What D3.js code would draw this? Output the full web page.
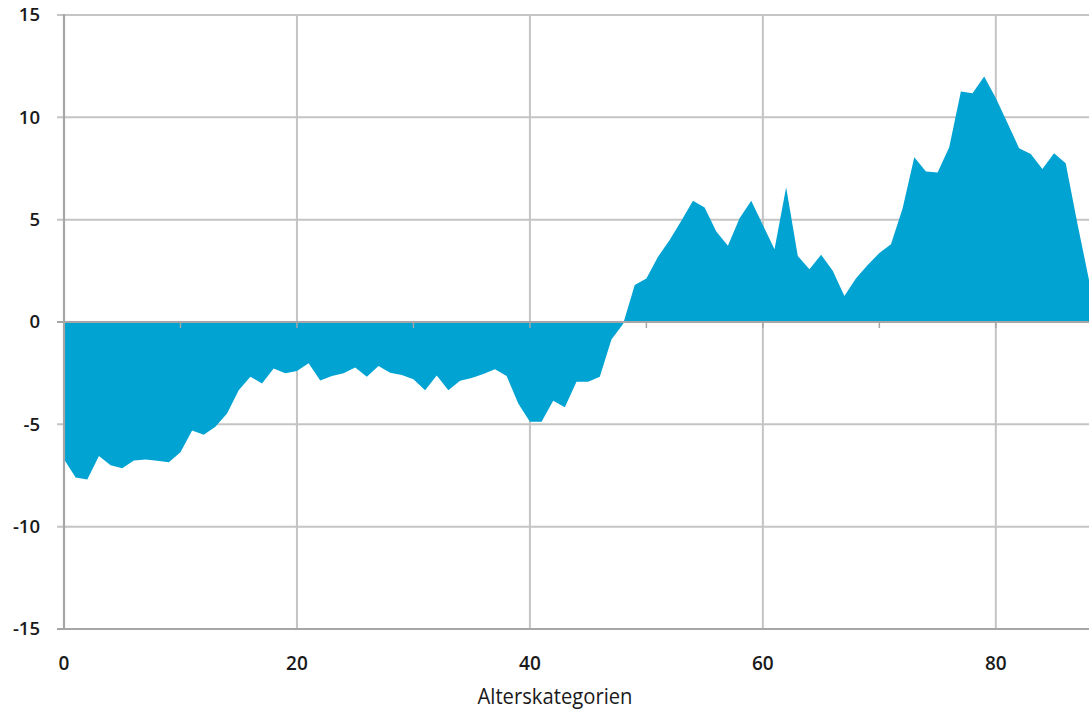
<!DOCTYPE html>
<html>
<head>
<meta charset="utf-8">
<script src="https://cdn.jsdelivr.net/npm/d3@7"></script>
<style>
  html, body { margin: 0; padding: 0; background: #ffffff; }
  svg { display: block; }
</style>
</head>
<body>
<div id="chart"></div>
<script>
// Age categories (x) and values (y)
const ages = d3.range(0, 89);
const values = [
  -6.7, -7.6, -7.7, -6.55, -7.0, -7.14, -6.77, -6.72, -6.78, -6.85,
  -6.37, -5.30, -5.51, -5.12, -4.47, -3.33, -2.67, -3.0, -2.27, -2.51,
  -2.40, -2.02, -2.86, -2.64, -2.51, -2.22, -2.67, -2.15, -2.48, -2.59,
  -2.80, -3.33, -2.61, -3.34, -2.87, -2.74, -2.54, -2.31, -2.64, -3.98,
  -4.87, -4.87, -3.85, -4.17, -2.92, -2.92, -2.67, -0.85, -0.1, 1.81,
  2.13, 3.19, 4.01, 4.95, 5.93, 5.59, 4.42, 3.72, 5.07, 5.92,
  4.74, 3.55, 6.59, 3.23, 2.58, 3.28, 2.51, 1.27, 2.14, 2.79,
  3.37, 3.80, 5.56, 8.05, 7.35, 7.30, 8.54, 11.26, 11.18, 12.0,
  10.94, 9.72, 8.49, 8.21, 7.48, 8.25, 7.76, 4.83, 2.05
];
const xTickValues = [0, 20, 40, 60, 80];
const xMinorTicks = [0, 10, 20, 30, 40, 50, 60, 70, 80];
const yTickValues = [-15, -10, -5, 0, 5, 10, 15];
const xAxisTitle = "Alterskategorien";

const W = 1089, H = 712;
const svg = d3.select("#chart").append("svg").attr("width", W).attr("height", H);

const x = d3.scaleLinear().domain([0, 88]).range([64, 1089]);
const y = d3.scaleLinear().domain([-15, 15]).range([629, 15]);

const gridColor = "#c4c4c4";
const axisColor = "#a6a6a6";
const font = "'Open Sans', 'Noto Sans', sans-serif";

// horizontal gridlines
svg.append("g").selectAll("line")
  .data(yTickValues.filter(v => v !== 0 && v !== -15))
  .join("line")
  .attr("x1", 57).attr("x2", x(88))
  .attr("y1", d => y(d)).attr("y2", d => y(d))
  .attr("stroke", gridColor).attr("stroke-width", 2);

// vertical gridlines
svg.append("g").selectAll("line")
  .data(xTickValues.filter(v => v !== 0))
  .join("line")
  .attr("x1", d => x(d)).attr("x2", d => x(d))
  .attr("y1", y(15)).attr("y2", y(-15))
  .attr("stroke", gridColor).attr("stroke-width", 2);

// area
const area = d3.area()
  .x((d, i) => x(ages[i]))
  .y0(y(0))
  .y1(d => y(d));
svg.append("path")
  .datum(values)
  .attr("d", area)
  .attr("fill", "#00a3d2");

// x minor ticks on zero line
svg.append("g").selectAll("line")
  .data(xMinorTicks)
  .join("line")
  .attr("x1", d => x(d)).attr("x2", d => x(d))
  .attr("y1", y(0)).attr("y2", y(0) + 6)
  .attr("stroke", axisColor).attr("stroke-width", 1.5);

// zero line
svg.append("line")
  .attr("x1", 57).attr("x2", x(88))
  .attr("y1", y(0)).attr("y2", y(0))
  .attr("stroke", axisColor).attr("stroke-width", 2.2);

// bottom line (-15)
svg.append("line")
  .attr("x1", 57).attr("x2", x(88))
  .attr("y1", y(-15)).attr("y2", y(-15))
  .attr("stroke", axisColor).attr("stroke-width", 2);

// left axis line
svg.append("line")
  .attr("x1", x(0)).attr("x2", x(0))
  .attr("y1", y(15) - 1).attr("y2", y(-15) + 1)
  .attr("stroke", axisColor).attr("stroke-width", 2.2);

// y tick labels
svg.append("g").selectAll("text")
  .data(yTickValues)
  .join("text")
  .attr("x", 40)
  .attr("y", d => y(d))
  .attr("dy", "0.35em")
  .attr("text-anchor", "end")
  .attr("font-family", font)
  .attr("font-size", 18.5)
  .attr("font-weight", 600)
  .attr("fill", "#1a1a1a")
  .text(d => d);

// x tick labels
svg.append("g").selectAll("text")
  .data(xTickValues)
  .join("text")
  .attr("x", d => x(d))
  .attr("y", 663)
  .attr("dy", "0.35em")
  .attr("text-anchor", "middle")
  .attr("font-family", font)
  .attr("font-size", 19)
  .attr("font-weight", 600)
  .attr("fill", "#1a1a1a")
  .text(d => d);

// x axis title
svg.append("text")
  .attr("x", 555)
  .attr("y", 697)
  .attr("dy", "0.35em")
  .attr("text-anchor", "middle")
  .attr("font-family", font)
  .attr("font-size", 21)
  .attr("textLength", 155)
  .attr("lengthAdjust", "spacingAndGlyphs")
  .attr("fill", "#1a1a1a")
  .text(xAxisTitle);
</script>
</body>
</html>
